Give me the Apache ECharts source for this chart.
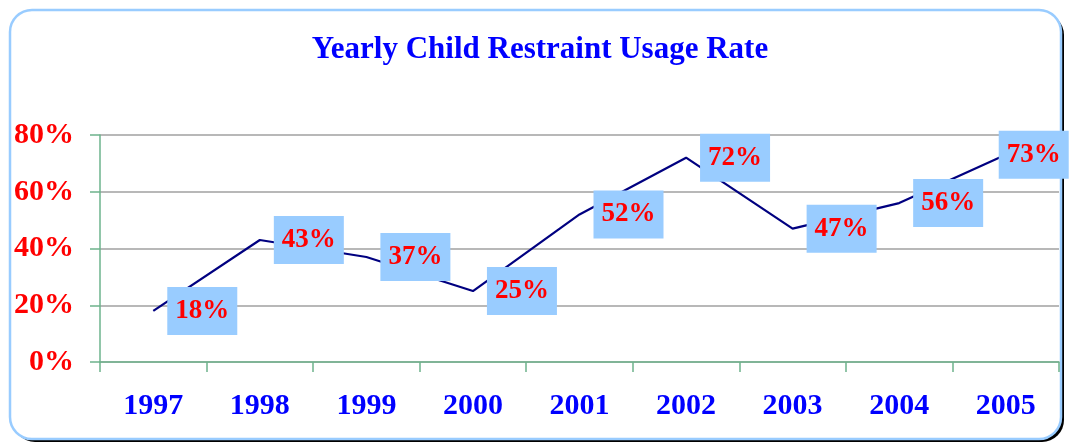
<!DOCTYPE html>
<html>
<head>
<meta charset="utf-8">
<script src="https://cdn.jsdelivr.net/npm/echarts@6/dist/echarts.min.js"></script>
<style>
  html, body { margin: 0; padding: 0; background: #ffffff; }
  #chart { width: 1069px; height: 443px; }
</style>
</head>
<body>
<div id="chart"></div>
<script>
const years = ['1997', '1998', '1999', '2000', '2001', '2002', '2003', '2004', '2005']
const usageRate = [18, 43, 37, 25, 52, 72, 47, 56, 73]
const yTicks = { min: 0, max: 80, interval: 20 }

const serif = '"Liberation Serif", "DejaVu Serif", serif'
const green = '#6db38c'

const myChart = echarts.init(document.getElementById('chart'), null, { renderer: 'canvas' })

const option = {
  backgroundColor: '#ffffff',
  animation: false,
  graphic: [
    {
      // dark shadow behind the frame
      type: 'rect',
      z: -11,
      shape: { x: 13, y: 13, width: 1051, height: 429, r: 22 },
      style: { fill: '#000000' }
    },
    {
      // rounded frame
      type: 'rect',
      z: -10,
      shape: { x: 10, y: 10, width: 1051, height: 429, r: 22 },
      style: { fill: '#ffffff', stroke: '#99ccff', lineWidth: 2.5 }
    }
  ],
  title: {
    text: 'Yearly Child Restraint Usage Rate',
    left: 535,
    textAlign: 'center',
    top: 29,
    textStyle: {
      color: '#0000ff',
      fontFamily: serif,
      fontWeight: 'bold',
      fontSize: 31
    }
  },
  grid: {
    left: 100,
    right: 10,
    top: 135,
    bottom: 81
  },
  xAxis: {
    type: 'category',
    data: years,
    boundaryGap: true,
    axisLine: { lineStyle: { color: green, width: 1.5 } },
    axisTick: { show: true, length: 10, interval: 0, lineStyle: { color: green, width: 1.5 } },
    axisLabel: {
      margin: 29,
      interval: 0,
      color: '#0000ff',
      fontFamily: serif,
      fontWeight: 'bold',
      fontSize: 30
    }
  },
  yAxis: {
    type: 'value',
    min: yTicks.min,
    max: yTicks.max,
    interval: yTicks.interval,
    axisLine: { show: true, lineStyle: { color: green, width: 1.5 } },
    axisTick: { show: true, length: 10, lineStyle: { color: green, width: 1.5 } },
    splitLine: { lineStyle: { color: '#a0a0a0', width: 1.5 } },
    axisLabel: {
      margin: 26,
      formatter: '{value}%',
      color: '#ff0000',
      fontFamily: serif,
      fontWeight: 'bold',
      fontSize: 30
    }
  },
  series: [
    {
      type: 'line',
      data: usageRate,
      symbol: 'circle',
      symbolSize: 0,
      showSymbol: true,
      lineStyle: { color: '#000080', width: 2.2 },
      itemStyle: { color: '#000080' },
      label: {
        show: true,
        position: 'right',
        distance: 14,
        formatter: '{c}%',
        backgroundColor: '#99ccff',
        padding: [11, 8, 10, 8],
        color: '#ff0000',
        fontFamily: serif,
        fontWeight: 'bold',
        fontSize: 27
      },
      // last label is pushed back inside the frame
      labelLayout: (params) =>
        params.dataIndex === usageRate.length - 1 ? { dx: -21 } : {},
      z: 3
    }
  ]
}

option && myChart.setOption(option)
</script>
</body>
</html>
